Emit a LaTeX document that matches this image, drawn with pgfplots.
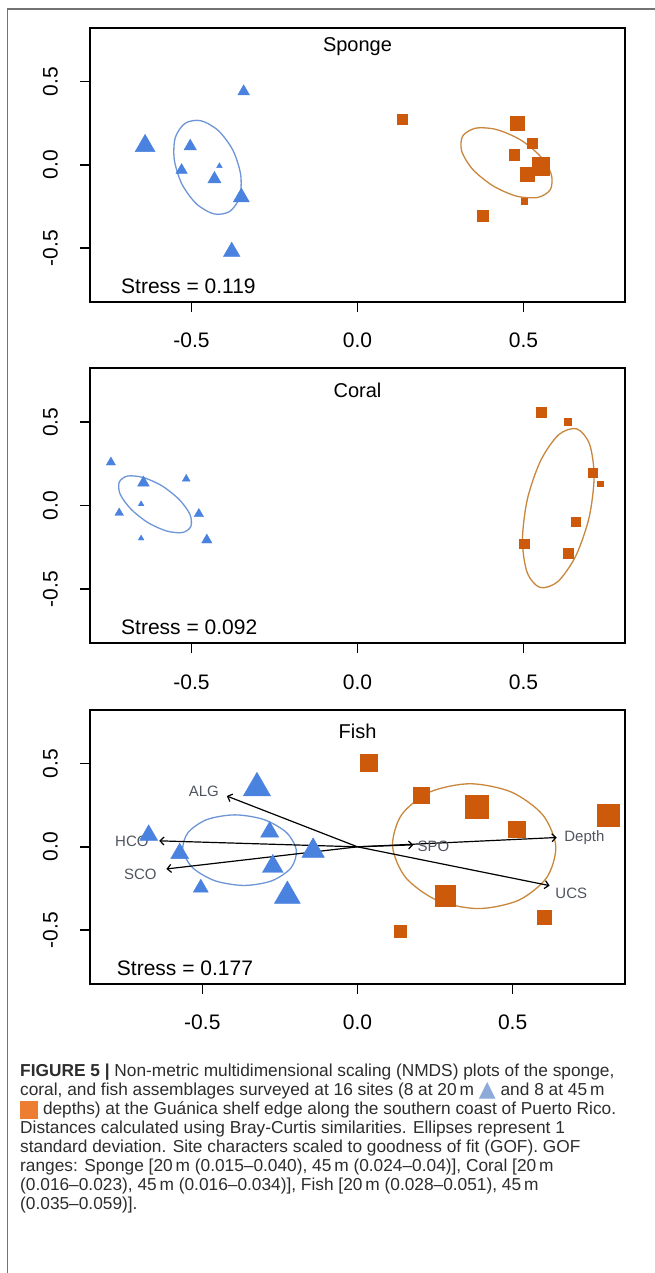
\documentclass[border=0pt]{standalone}
\usepackage{pgfplots}
\pgfplotsset{compat=1.18}
\usepackage{fontspec}
\setmainfont{Liberation Sans}
\newfontfamily\symfont{DejaVu Sans}
\usetikzlibrary{arrows.meta}
\definecolor{triblue}{RGB}{74,130,224}
\definecolor{sqorange}{RGB}{204,90,10}
\definecolor{ellblue}{RGB}{110,150,215}
\definecolor{ellorange}{RGB}{200,135,60}
\definecolor{capblue}{RGB}{142,170,219}
\definecolor{caporange}{RGB}{237,125,49}
\definecolor{vecgray}{RGB}{80,85,95}
\definecolor{captext}{RGB}{45,45,45}

\pgfplotsset{
  nmds/.style={
    scale only axis, width=535pt, height=274pt, anchor=south west,
    axis line style={line width=2.2pt, black},
    tick align=outside, major tick length=10pt,
    tick style={line width=1.4pt, black},
    xtick pos=left, ytick pos=left,
    xtick={-0.5,0,0.5}, xticklabels={-0.5,0.0,0.5},
    ytick={-0.5,0,0.5}, yticklabels={-0.5,0.0,0.5},
    ticklabel style={font=\fontsize{21}{21}\selectfont, inner sep=0pt},
    xticklabel style={anchor=north},
    yticklabel style={rotate=90, anchor=south},
    xticklabel shift=21pt, yticklabel shift=22pt,
    ymin=-0.824, ymax=0.822,
  },
  tri/.style={scatter, only marks, mark=triangle*,
    scatter/use mapped color={draw=triblue, fill=triblue},
    visualization depends on={\thisrow{s} \as \perpointmarksize},
    scatter/@pre marker code/.append style={/tikz/mark size=\perpointmarksize}},
  sq/.style={scatter, only marks, mark=square*,
    scatter/use mapped color={draw=sqorange, fill=sqorange},
    visualization depends on={\thisrow{s} \as \perpointmarksize},
    scatter/@pre marker code/.append style={/tikz/mark size=\perpointmarksize}},
  ellb/.style={ellblue, line width=1.3pt, smooth cycle, no markers},
  ello/.style={ellorange, line width=1.3pt, smooth cycle, no markers},
  vec/.style={black, line width=1.2pt, no markers, -{Straight Barb[length=4pt,width=8pt]}},
}

\begin{document}
\begin{tikzpicture}
\useasboundingbox (0pt,0pt) rectangle (655pt,1273pt);
\fill[white] (0pt,0pt) rectangle (655pt,1273pt);
\draw[black!55, line width=1.5pt] (7.3pt,0pt) -- (7.3pt,1264pt) -- (655pt,1264pt);

% ---------------- Sponge ----------------
\begin{axis}[nmds, at={(90pt,971pt)}, xmin=-0.806, xmax=0.806]
\addplot[tri] table {
x y s
-0.640 0.114 11.5
-0.343 0.440 6.8
-0.504 0.111 7.2
-0.530 -0.032 6.6
-0.416 -0.007 3.2
-0.431 -0.086 7.7
-0.350 -0.195 9.3
-0.379 -0.522 9.6
};
\addplot[sq] table {
x y s
0.135 0.275 5
0.480 0.251 7
0.526 0.131 5
0.472 0.062 5.2
0.552 -0.008 8.7
0.512 -0.058 6.8
0.503 -0.217 3
0.377 -0.303 5.5
};
\addplot[ellb] coordinates {(-0.472,0.265) (-0.419,0.205) (-0.375,0.086) (-0.352,-0.060) (-0.355,-0.194) (-0.385,-0.280) (-0.432,-0.295) (-0.485,-0.235) (-0.529,-0.116) (-0.552,0.030) (-0.549,0.164) (-0.519,0.250)};
\addplot[ello] coordinates {(0.584,-0.058) (0.551,0.051) (0.491,0.150) (0.419,0.212) (0.356,0.220) (0.317,0.173) (0.314,0.082) (0.347,-0.027) (0.408,-0.126) (0.479,-0.188) (0.543,-0.196) (0.581,-0.149)};
\node[font=\fontsize{20}{20}\selectfont] at (rel axis cs:0.5,0.932) {Sponge};
\node[font=\fontsize{21}{21}\selectfont, anchor=west, inner sep=0pt] at (rel axis cs:0.058,0.058) {Stress = 0.119};
\end{axis}

% ---------------- Coral ----------------
\begin{axis}[nmds, at={(90pt,629.7pt)}, height=275pt, xmin=-0.806, xmax=0.806]
\addplot[tri] table {
x y s
-0.743 0.259 5.3
-0.645 0.137 6.7
-0.516 0.160 4.5
-0.652 0.009 3.3
-0.718 -0.044 5
-0.478 -0.050 5.5
-0.652 -0.196 3.3
-0.454 -0.206 6
};
\addplot[sq] table {
x y s
0.553 0.560 4.8
0.634 0.500 3.5
0.709 0.198 4.2
0.731 0.130 2.7
0.658 -0.096 4.3
0.502 -0.228 4.7
0.635 -0.287 5
};
\addplot[ellb] coordinates {(-0.505,-0.052) (-0.537,0.036) (-0.588,0.117) (-0.645,0.168) (-0.693,0.177) (-0.718,0.140) (-0.715,0.068) (-0.683,-0.020) (-0.632,-0.101) (-0.575,-0.152) (-0.527,-0.161) (-0.502,-0.124)};
\addplot[ello] coordinates {(0.660,0.460) (0.699,0.369) (0.713,0.175) (0.698,-0.070) (0.658,-0.300) (0.604,-0.454) (0.550,-0.490) (0.511,-0.399) (0.497,-0.205) (0.512,0.040) (0.552,0.270) (0.606,0.424)};
\node[font=\fontsize{20}{20}\selectfont] at (rel axis cs:0.5,0.919) {Coral};
\node[font=\fontsize{21}{21}\selectfont, anchor=west, inner sep=0pt] at (rel axis cs:0.058,0.060) {Stress = 0.092};
\end{axis}

% ---------------- Fish ----------------
\begin{axis}[nmds, at={(90pt,289pt)}, xmin=-0.862, xmax=0.862]
\addplot[tri] table {
x y s
-0.324 0.353 15.8
-0.283 0.090 10.4
-0.673 0.070 10.4
-0.573 -0.040 10.4
-0.143 -0.024 13
-0.273 -0.118 12
-0.505 -0.246 8.6
-0.226 -0.295 15
};
\addplot[sq] table {
x y s
0.036 0.504 8.6
0.205 0.309 7.7
0.384 0.239 11.5
0.808 0.189 10.8
0.514 0.106 8.4
0.283 -0.293 10.2
0.602 -0.422 7
0.137 -0.506 5.8
};
\addplot[ellb] coordinates {(-0.197,-0.020) (-0.229,0.086) (-0.302,0.164) (-0.395,0.192) (-0.485,0.164) (-0.546,0.086) (-0.563,-0.020) (-0.531,-0.126) (-0.459,-0.204) (-0.365,-0.232) (-0.276,-0.204) (-0.214,-0.126)};
\addplot[ello] coordinates {(0.639,0.004) (0.597,0.192) (0.496,0.329) (0.363,0.379) (0.233,0.329) (0.142,0.192) (0.113,0.004) (0.155,-0.184) (0.256,-0.321) (0.389,-0.371) (0.519,-0.321) (0.610,-0.184)};
\addplot[vec] coordinates {(0,0) (-0.639,0.036)};
\addplot[vec] coordinates {(0,0) (-0.616,-0.133)};
\addplot[vec] coordinates {(0,0) (-0.421,0.305)};
\addplot[vec] coordinates {(0,0) (0.180,0.012)};
\addplot[vec] coordinates {(0,0) (0.642,0.056)};
\addplot[vec] coordinates {(0,0) (0.619,-0.233)};
\begin{scope}[every node/.style={font=\fontsize{15}{15}\selectfont, text=vecgray, inner sep=0pt}]
\node at (axis cs:-0.727,0.036) {HCO};
\node at (axis cs:-0.700,-0.163) {SCO};
\node at (axis cs:-0.495,0.335) {ALG};
\node at (axis cs:0.245,0.000) {SPO};
\node at (axis cs:0.731,0.056) {Depth};
\node at (axis cs:0.689,-0.279) {UCS};
\end{scope}
\node[font=\fontsize{20}{20}\selectfont] at (rel axis cs:0.5,0.921) {Fish};
\node[font=\fontsize{21}{21}\selectfont, anchor=west, inner sep=0pt] at (rel axis cs:0.050,0.057) {Stress = 0.177};
\end{axis}

% ---------------- Caption ----------------
\begin{scope}[every node/.style={anchor=base west, inner sep=0pt, text=captext, font=\fontsize{17.3}{19}\selectfont}]
\node at (20pt,196pt) {\textbf{FIGURE 5 |} Non-metric multidimensional scaling (NMDS) plots of the sponge,};
\node at (20pt,177pt) {coral, and fish assemblages surveyed at 16 sites (8 at 20\,m \raisebox{-1pt}{\symfont\fontsize{22}{22}\selectfont\textcolor{capblue}{▲}} and 8 at 45\,m};
\node at (20pt,158pt) {\textcolor{caporange}{\rule[-4pt]{18pt}{18pt}} depths) at the Guánica shelf edge along the southern coast of Puerto Rico.};
\node at (20pt,139pt) {Distances calculated using Bray-Curtis similarities. Ellipses represent 1};
\node at (20pt,120pt) {standard deviation. Site characters scaled to goodness of fit (GOF). GOF};
\node at (20pt,101pt) {ranges: Sponge [20\,m (0.015--0.040), 45\,m (0.024--0.04)], Coral [20\,m};
\node at (20pt,82pt) {(0.016--0.023), 45\,m (0.016--0.034)], Fish [20\,m (0.028--0.051), 45\,m};
\node at (20pt,63pt) {(0.035--0.059)].};
\end{scope}
\end{tikzpicture}
\end{document}
